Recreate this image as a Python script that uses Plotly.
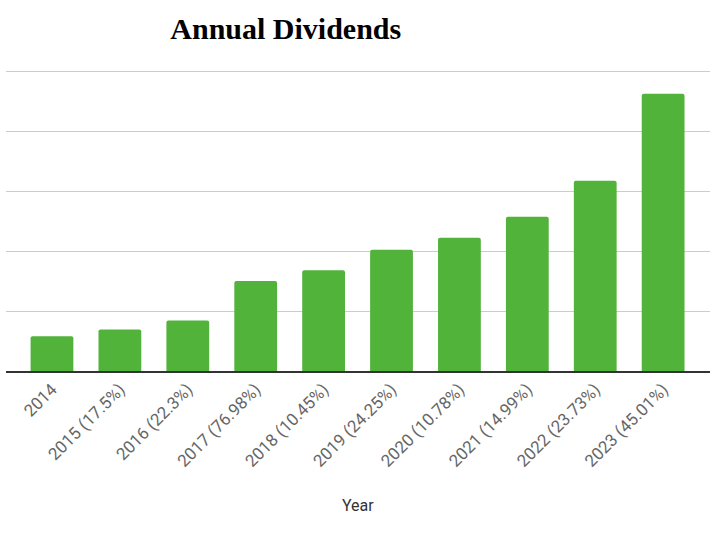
import plotly.graph_objects as go

years = ["2014", "2015 (17.5%)", "2016 (22.3%)", "2017 (76.98%)", "2018 (10.45%)",
         "2019 (24.25%)", "2020 (10.78%)", "2021 (14.99%)", "2022 (23.73%)", "2023 (45.01%)"]
dividends = [0.58, 0.69, 0.84, 1.50, 1.68, 2.02, 2.22, 2.57, 3.17, 4.62]

fig = go.Figure(go.Bar(
    x=years, y=dividends,
    marker=dict(color="#51b33a", line=dict(width=0)),
    width=0.63,
))

fig.update_layout(
    width=718, height=536,
    margin=dict(l=6, r=8, t=68, b=165),
    paper_bgcolor="white", plot_bgcolor="white",
    showlegend=False,
    barcornerradius=2,
    title=dict(text="<b>Annual Dividends</b>", x=0.398, xanchor="center",
               y=1 - 28 / 536, yanchor="middle",
               font=dict(family="Liberation Serif", size=30, color="black")),
    xaxis=dict(
        type="category", range=[-0.677, 9.69],
        tickangle=-45, showgrid=False, showline=True, linecolor="#333333", linewidth=1.5,
        ticks="", tickfont=dict(family="Roboto", size=17, color="#666666"),
    ),
    yaxis=dict(
        range=[0, 5.05], tickvals=[1, 2, 3, 4, 5], showticklabels=False, showgrid=True,
        gridcolor="#cccccc", gridwidth=1, zeroline=False, showline=False,
    ),
    annotations=[dict(text="Year", x=0.5, xref="paper", y=(371 - 505) / 303, yref="paper",
                      xanchor="center", yanchor="middle", showarrow=False,
                      font=dict(family="Roboto", size=16, color="#333333"))],
)

fig.write_html("out.html")
